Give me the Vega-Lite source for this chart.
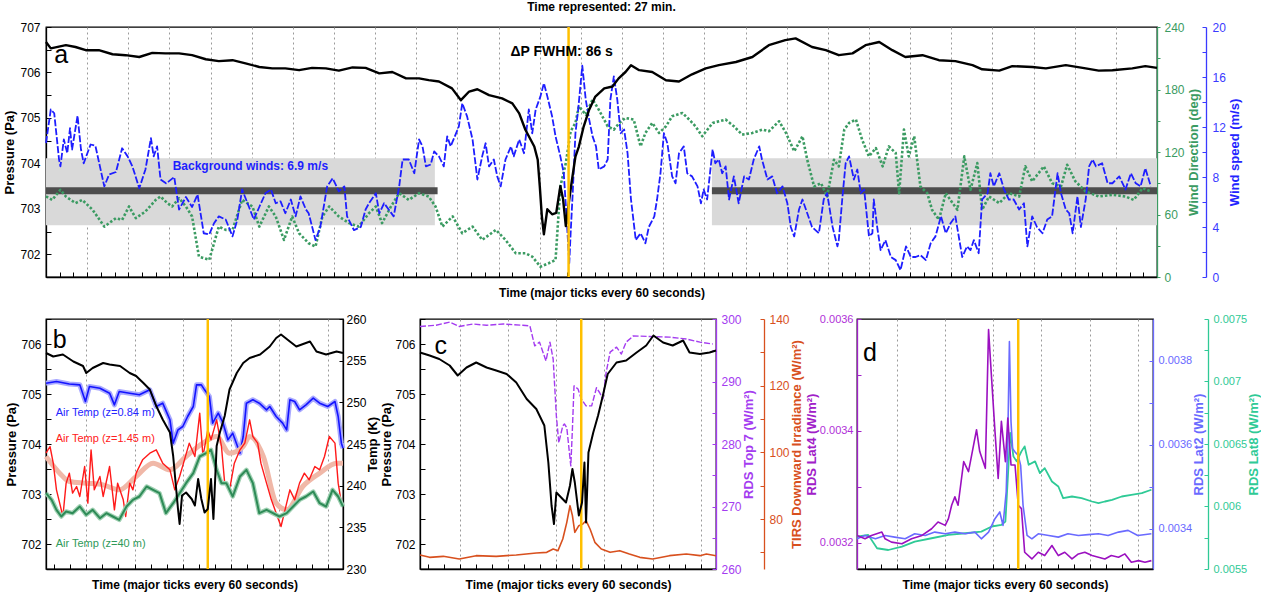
{
 "$schema": "https://vega.github.io/schema/vega-lite/v6.json",
 "background": "white",
 "padding": {"left": 3, "top": 0, "right": 0, "bottom": 0},
 "datasets": {
  "a_p": [{"t":0,"v":706.67},{"t":7,"v":706.53},{"t":29,"v":706.6},{"t":43,"v":706.56},{"t":58,"v":706.49},{"t":77,"v":706.49},{"t":97,"v":706.4},{"t":116,"v":706.38},{"t":136,"v":706.34},{"t":155,"v":706.43},{"t":174,"v":706.42},{"t":194,"v":706.42},{"t":213,"v":706.38},{"t":233,"v":706.29},{"t":252,"v":706.25},{"t":272,"v":706.27},{"t":291,"v":706.2},{"t":311,"v":706.12},{"t":330,"v":706.09},{"t":349,"v":706.09},{"t":369,"v":706.05},{"t":388,"v":706.1},{"t":408,"v":706.09},{"t":427,"v":706.04},{"t":447,"v":706.11},{"t":466,"v":706.1},{"t":486,"v":705.98},{"t":505,"v":706.01},{"t":525,"v":705.87},{"t":544,"v":705.87},{"t":558,"v":705.83},{"t":573,"v":705.8},{"t":592,"v":705.65},{"t":605,"v":705.39},{"t":617,"v":705.58},{"t":629,"v":705.63},{"t":646,"v":705.5},{"t":665,"v":705.43},{"t":680,"v":705.32},{"t":690,"v":705.1},{"t":699,"v":704.74},{"t":712,"v":704.37},{"t":717,"v":704.08},{"t":720,"v":703.5},{"t":723,"v":702.84},{"t":726,"v":702.44},{"t":731,"v":702.99},{"t":738,"v":702.88},{"t":744,"v":702.91},{"t":750,"v":703.5},{"t":754,"v":703.21},{"t":758,"v":702.62},{"t":763,"v":703.21},{"t":767,"v":703.64},{"t":772,"v":704.15},{"t":777,"v":704.37},{"t":784,"v":704.81},{"t":792,"v":705.18},{"t":801,"v":705.47},{"t":814,"v":705.65},{"t":826,"v":705.69},{"t":835,"v":705.87},{"t":845,"v":706.01},{"t":853,"v":706.16},{"t":865,"v":706.05},{"t":884,"v":706.01},{"t":904,"v":705.83},{"t":923,"v":705.8},{"t":942,"v":705.96},{"t":962,"v":706.09},{"t":981,"v":706.16},{"t":1006,"v":706.23},{"t":1030,"v":706.34},{"t":1054,"v":706.6},{"t":1078,"v":706.71},{"t":1093,"v":706.75},{"t":1117,"v":706.56},{"t":1137,"v":706.49},{"t":1156,"v":706.38},{"t":1176,"v":706.42},{"t":1195,"v":706.6},{"t":1215,"v":706.67},{"t":1234,"v":706.49},{"t":1253,"v":706.34},{"t":1278,"v":706.38},{"t":1302,"v":706.27},{"t":1326,"v":706.25},{"t":1351,"v":706.16},{"t":1365,"v":706.07},{"t":1390,"v":706.04},{"t":1409,"v":706.14},{"t":1438,"v":706.12},{"t":1458,"v":706.09},{"t":1487,"v":706.16},{"t":1516,"v":706.09},{"t":1535,"v":706.04},{"t":1555,"v":706.05},{"t":1584,"v":706.09},{"t":1603,"v":706.14},{"t":1620,"v":706.1}],
  "a_ws": [{"t":0,"v":10.72},{"t":7,"v":13.4},{"t":12,"v":13.1},{"t":19,"v":9.4},{"t":21,"v":8.85},{"t":26,"v":11.0},{"t":31,"v":9.9},{"t":35,"v":11.9},{"t":38,"v":10.2},{"t":46,"v":12.9},{"t":51,"v":10.2},{"t":55,"v":9.1},{"t":65,"v":10.6},{"t":72,"v":10.5},{"t":85,"v":7.25},{"t":92,"v":8.2},{"t":102,"v":8.4},{"t":111,"v":10.3},{"t":119,"v":9.65},{"t":126,"v":8.85},{"t":136,"v":7.1},{"t":145,"v":8.6},{"t":153,"v":11.1},{"t":157,"v":9.65},{"t":162,"v":10.45},{"t":167,"v":7.8},{"t":175,"v":7.5},{"t":179,"v":7.65},{"t":187,"v":8.0},{"t":194,"v":5.4},{"t":204,"v":6.4},{"t":213,"v":5.6},{"t":221,"v":6.6},{"t":230,"v":3.5},{"t":238,"v":3.4},{"t":245,"v":4.3},{"t":252,"v":4.85},{"t":262,"v":4.6},{"t":272,"v":3.25},{"t":279,"v":4.6},{"t":286,"v":7.0},{"t":296,"v":5.6},{"t":303,"v":4.6},{"t":311,"v":5.6},{"t":320,"v":6.7},{"t":328,"v":7.0},{"t":335,"v":5.9},{"t":342,"v":6.05},{"t":349,"v":5.1},{"t":357,"v":6.2},{"t":364,"v":4.85},{"t":371,"v":6.45},{"t":379,"v":5.4},{"t":383,"v":5.1},{"t":393,"v":2.95},{"t":400,"v":4.0},{"t":410,"v":7.25},{"t":418,"v":7.9},{"t":427,"v":6.85},{"t":435,"v":7.25},{"t":439,"v":4.85},{"t":449,"v":3.75},{"t":459,"v":4.0},{"t":466,"v":5.4},{"t":471,"v":5.9},{"t":481,"v":6.7},{"t":486,"v":5.1},{"t":493,"v":5.9},{"t":507,"v":4.85},{"t":515,"v":7.25},{"t":520,"v":9.4},{"t":529,"v":9.4},{"t":537,"v":8.3},{"t":544,"v":11.0},{"t":549,"v":10.45},{"t":554,"v":8.85},{"t":561,"v":9.0},{"t":566,"v":10.05},{"t":573,"v":9.65},{"t":580,"v":8.85},{"t":585,"v":11.25},{"t":590,"v":10.45},{"t":595,"v":11.1},{"t":602,"v":12.05},{"t":607,"v":13.9},{"t":614,"v":12.85},{"t":622,"v":11.0},{"t":629,"v":7.8},{"t":636,"v":9.65},{"t":641,"v":10.7},{"t":646,"v":8.85},{"t":653,"v":9.4},{"t":658,"v":8.05},{"t":663,"v":7.25},{"t":670,"v":9.4},{"t":678,"v":10.45},{"t":682,"v":9.65},{"t":690,"v":11.0},{"t":697,"v":9.9},{"t":704,"v":13.4},{"t":709,"v":11.5},{"t":714,"v":13.4},{"t":721,"v":14.45},{"t":726,"v":15.5},{"t":731,"v":14.45},{"t":738,"v":12.85},{"t":743,"v":11.25},{"t":750,"v":9.65},{"t":755,"v":8.3},{"t":759,"v":4.85},{"t":763,"v":1.1},{"t":765,"v":3.5},{"t":768,"v":6.7},{"t":772,"v":11.5},{"t":776,"v":13.4},{"t":782,"v":16.9},{"t":787,"v":14.2},{"t":792,"v":12.6},{"t":797,"v":11.25},{"t":802,"v":10.45},{"t":806,"v":8.6},{"t":814,"v":8.85},{"t":819,"v":9.4},{"t":823,"v":14.2},{"t":828,"v":16.05},{"t":833,"v":14.2},{"t":838,"v":11.5},{"t":843,"v":11.8},{"t":848,"v":9.9},{"t":853,"v":6.2},{"t":860,"v":2.95},{"t":867,"v":3.5},{"t":874,"v":2.7},{"t":879,"v":4.0},{"t":887,"v":4.85},{"t":891,"v":6.2},{"t":896,"v":8.3},{"t":901,"v":11.5},{"t":906,"v":10.7},{"t":913,"v":8.05},{"t":918,"v":7.5},{"t":923,"v":9.9},{"t":930,"v":10.45},{"t":935,"v":8.3},{"t":942,"v":8.05},{"t":950,"v":7.25},{"t":955,"v":5.9},{"t":959,"v":7.0},{"t":964,"v":6.2},{"t":972,"v":10.2},{"t":976,"v":9.1},{"t":981,"v":9.4},{"t":986,"v":8.3},{"t":991,"v":8.85},{"t":996,"v":6.2},{"t":1003,"v":8.05},{"t":1010,"v":5.9},{"t":1018,"v":8.05},{"t":1025,"v":7.8},{"t":1032,"v":9.4},{"t":1040,"v":10.45},{"t":1044,"v":9.4},{"t":1052,"v":7.8},{"t":1059,"v":8.05},{"t":1066,"v":6.7},{"t":1074,"v":7.25},{"t":1081,"v":5.9},{"t":1086,"v":4.0},{"t":1091,"v":3.25},{"t":1098,"v":5.4},{"t":1103,"v":6.2},{"t":1110,"v":5.1},{"t":1117,"v":4.0},{"t":1127,"v":3.5},{"t":1134,"v":6.2},{"t":1139,"v":6.7},{"t":1147,"v":4.0},{"t":1154,"v":2.45},{"t":1156,"v":2.95},{"t":1161,"v":6.2},{"t":1166,"v":9.1},{"t":1171,"v":9.65},{"t":1178,"v":7.8},{"t":1183,"v":8.6},{"t":1188,"v":6.7},{"t":1193,"v":7.0},{"t":1200,"v":3.25},{"t":1205,"v":3.5},{"t":1207,"v":6.2},{"t":1212,"v":4.0},{"t":1217,"v":2.15},{"t":1224,"v":2.95},{"t":1232,"v":1.6},{"t":1239,"v":1.35},{"t":1246,"v":0.55},{"t":1254,"v":2.45},{"t":1261,"v":1.6},{"t":1268,"v":1.6},{"t":1275,"v":1.75},{"t":1283,"v":1.35},{"t":1290,"v":2.7},{"t":1297,"v":3.25},{"t":1305,"v":4.85},{"t":1312,"v":3.5},{"t":1319,"v":4.3},{"t":1326,"v":4.85},{"t":1336,"v":1.6},{"t":1343,"v":2.45},{"t":1348,"v":2.15},{"t":1353,"v":2.95},{"t":1360,"v":1.9},{"t":1365,"v":6.2},{"t":1373,"v":6.7},{"t":1377,"v":8.3},{"t":1382,"v":7.25},{"t":1390,"v":8.3},{"t":1397,"v":7.0},{"t":1404,"v":6.2},{"t":1411,"v":6.2},{"t":1419,"v":5.4},{"t":1426,"v":5.9},{"t":1431,"v":2.45},{"t":1438,"v":4.85},{"t":1445,"v":4.0},{"t":1453,"v":3.5},{"t":1460,"v":4.6},{"t":1467,"v":4.85},{"t":1475,"v":8.3},{"t":1480,"v":6.7},{"t":1487,"v":5.4},{"t":1492,"v":5.1},{"t":1497,"v":3.5},{"t":1504,"v":6.45},{"t":1509,"v":4.0},{"t":1516,"v":6.2},{"t":1521,"v":8.85},{"t":1526,"v":9.4},{"t":1531,"v":8.85},{"t":1540,"v":9.1},{"t":1548,"v":7.5},{"t":1555,"v":7.5},{"t":1565,"v":8.05},{"t":1574,"v":7.0},{"t":1582,"v":8.3},{"t":1589,"v":7.5},{"t":1596,"v":7.25},{"t":1603,"v":8.7},{"t":1611,"v":7.25}],
  "a_wd": [{"t":0,"v":77.3},{"t":9,"v":74},{"t":21,"v":83.7},{"t":29,"v":77.3},{"t":43,"v":70.9},{"t":53,"v":74},{"t":68,"v":64.5},{"t":85,"v":48.4},{"t":102,"v":56.5},{"t":111,"v":54.9},{"t":121,"v":67.7},{"t":131,"v":56.5},{"t":145,"v":62.9},{"t":160,"v":74},{"t":167,"v":77.3},{"t":177,"v":70.9},{"t":184,"v":67.7},{"t":194,"v":75.7},{"t":204,"v":67.7},{"t":213,"v":58.1},{"t":223,"v":19.6},{"t":238,"v":16.4},{"t":252,"v":48.4},{"t":262,"v":45.2},{"t":272,"v":45.2},{"t":286,"v":74},{"t":301,"v":67.7},{"t":311,"v":48.4},{"t":325,"v":67.7},{"t":335,"v":58.1},{"t":347,"v":35.6},{"t":359,"v":58.1},{"t":369,"v":42},{"t":383,"v":32.4},{"t":393,"v":29.2},{"t":403,"v":58.1},{"t":413,"v":67.7},{"t":427,"v":58.1},{"t":442,"v":51.7},{"t":456,"v":48.4},{"t":471,"v":61.3},{"t":481,"v":67.7},{"t":490,"v":51.7},{"t":503,"v":67.7},{"t":515,"v":80.5},{"t":529,"v":74},{"t":544,"v":80.5},{"t":558,"v":77.3},{"t":568,"v":67.7},{"t":578,"v":48.4},{"t":593,"v":58.1},{"t":607,"v":42},{"t":622,"v":48.4},{"t":636,"v":35.6},{"t":656,"v":45.2},{"t":670,"v":35.6},{"t":685,"v":22.8},{"t":699,"v":22.8},{"t":709,"v":19.6},{"t":721,"v":9.9},{"t":733,"v":13.2},{"t":743,"v":16.4},{"t":750,"v":86.9},{"t":758,"v":109.4},{"t":765,"v":139.9},{"t":772,"v":147.9},{"t":777,"v":163.9},{"t":787,"v":155.9},{"t":797,"v":170.4},{"t":806,"v":160.7},{"t":819,"v":144.7},{"t":828,"v":141.5},{"t":836,"v":147.9},{"t":845,"v":152.7},{"t":857,"v":151.1},{"t":867,"v":125.4},{"t":874,"v":138.3},{"t":884,"v":147.9},{"t":894,"v":138.3},{"t":904,"v":144.7},{"t":913,"v":154.3},{"t":928,"v":157.5},{"t":938,"v":151.1},{"t":947,"v":144.7},{"t":957,"v":135.1},{"t":972,"v":147.9},{"t":991,"v":151.1},{"t":1003,"v":144.7},{"t":1015,"v":136.7},{"t":1030,"v":138.3},{"t":1045,"v":141.5},{"t":1054,"v":139.9},{"t":1069,"v":149.5},{"t":1079,"v":138.3},{"t":1091,"v":120.6},{"t":1103,"v":135.1},{"t":1110,"v":112.6},{"t":1120,"v":86.9},{"t":1130,"v":90.1},{"t":1139,"v":77.3},{"t":1149,"v":112.6},{"t":1156,"v":106.2},{"t":1164,"v":141.5},{"t":1171,"v":147.9},{"t":1181,"v":151.1},{"t":1190,"v":131.9},{"t":1200,"v":115.8},{"t":1210,"v":123.8},{"t":1220,"v":106.2},{"t":1229,"v":125.4},{"t":1239,"v":119},{"t":1244,"v":80.5},{"t":1251,"v":141.5},{"t":1258,"v":115.8},{"t":1266,"v":135.1},{"t":1275,"v":86.9},{"t":1285,"v":80.5},{"t":1292,"v":64.5},{"t":1302,"v":54.9},{"t":1312,"v":80.5},{"t":1322,"v":70.9},{"t":1329,"v":64.5},{"t":1339,"v":115.8},{"t":1348,"v":83.7},{"t":1358,"v":109.4},{"t":1365,"v":64.5},{"t":1375,"v":77.3},{"t":1390,"v":70.9},{"t":1404,"v":80.5},{"t":1419,"v":77.3},{"t":1428,"v":106.2},{"t":1438,"v":91.8},{"t":1455,"v":106.2},{"t":1467,"v":90.1},{"t":1480,"v":86.9},{"t":1489,"v":107.8},{"t":1501,"v":91.8},{"t":1516,"v":82.1},{"t":1535,"v":77.3},{"t":1555,"v":78.9},{"t":1574,"v":77.3},{"t":1586,"v":74},{"t":1599,"v":85.3},{"t":1611,"v":82.1}],
  "b_p": [{"t":0,"v":705.82},{"t":9,"v":705.75},{"t":21,"v":705.79},{"t":34,"v":705.65},{"t":46,"v":705.56},{"t":50,"v":705.42},{"t":58,"v":705.52},{"t":71,"v":705.62},{"t":79,"v":705.59},{"t":92,"v":705.56},{"t":104,"v":705.42},{"t":112,"v":705.36},{"t":121,"v":705.22},{"t":129,"v":705.09},{"t":137,"v":704.76},{"t":145,"v":704.49},{"t":154,"v":704.23},{"t":158,"v":703.76},{"t":161,"v":703.23},{"t":164,"v":702.7},{"t":166,"v":702.4},{"t":169,"v":702.97},{"t":174,"v":703.03},{"t":181,"v":702.9},{"t":185,"v":702.77},{"t":189,"v":703.3},{"t":193,"v":702.9},{"t":197,"v":702.63},{"t":201,"v":702.7},{"t":205,"v":703.3},{"t":208,"v":702.5},{"t":212,"v":703.96},{"t":216,"v":704.23},{"t":222,"v":704.56},{"t":228,"v":705.09},{"t":237,"v":705.42},{"t":245,"v":705.62},{"t":253,"v":705.72},{"t":266,"v":705.79},{"t":278,"v":705.95},{"t":286,"v":706.12},{"t":292,"v":706.19},{"t":303,"v":706.05},{"t":311,"v":705.95},{"t":328,"v":706.05},{"t":336,"v":705.85},{"t":348,"v":705.79},{"t":361,"v":705.85},{"t":369,"v":705.82}],
  "b_t084": [{"t":0,"v":252.3},{"t":13,"v":252.5},{"t":29,"v":252.2},{"t":42,"v":252.1},{"t":49,"v":250.1},{"t":54,"v":251.9},{"t":67,"v":251.7},{"t":79,"v":251.1},{"t":85,"v":249.7},{"t":91,"v":251.3},{"t":104,"v":251.1},{"t":116,"v":250.9},{"t":129,"v":251.5},{"t":137,"v":249.5},{"t":145,"v":249.9},{"t":154,"v":247.9},{"t":158,"v":245.1},{"t":164,"v":246.7},{"t":170,"v":247.1},{"t":176,"v":248.3},{"t":183,"v":249.5},{"t":187,"v":252.1},{"t":193,"v":252.1},{"t":197,"v":251.5},{"t":203,"v":250.7},{"t":207,"v":247.5},{"t":214,"v":248.7},{"t":220,"v":247.5},{"t":226,"v":245.5},{"t":232,"v":246.3},{"t":241,"v":243.9},{"t":245,"v":245.9},{"t":249,"v":249.9},{"t":257,"v":250.3},{"t":265,"v":249.9},{"t":274,"v":249.1},{"t":278,"v":249.5},{"t":286,"v":248.3},{"t":294,"v":247.5},{"t":299,"v":246.7},{"t":303,"v":250.3},{"t":309,"v":250.1},{"t":315,"v":249.1},{"t":323,"v":249.7},{"t":332,"v":250.5},{"t":340,"v":249.9},{"t":350,"v":249.5},{"t":359,"v":250.1},{"t":363,"v":248.3},{"t":367,"v":245.1},{"t":369,"v":244.5}],
  "b_t145": [{"t":0,"v":243.9},{"t":5,"v":244.7},{"t":9,"v":242.7},{"t":13,"v":239.5},{"t":17,"v":237.9},{"t":21,"v":236.3},{"t":25,"v":240.3},{"t":29,"v":241.5},{"t":33,"v":239.1},{"t":38,"v":239.9},{"t":42,"v":238.7},{"t":48,"v":242.3},{"t":52,"v":237.9},{"t":56,"v":244.3},{"t":60,"v":239.5},{"t":67,"v":241.1},{"t":71,"v":238.7},{"t":79,"v":242.3},{"t":85,"v":237.1},{"t":89,"v":240.3},{"t":96,"v":238.3},{"t":99,"v":236.3},{"t":104,"v":240.3},{"t":108,"v":239.5},{"t":112,"v":241.5},{"t":120,"v":243.1},{"t":129,"v":243.9},{"t":137,"v":244.3},{"t":145,"v":242.7},{"t":154,"v":241.9},{"t":160,"v":239.5},{"t":166,"v":241.1},{"t":172,"v":243.1},{"t":178,"v":245.1},{"t":185,"v":243.5},{"t":191,"v":248.7},{"t":195,"v":243.5},{"t":201,"v":246.7},{"t":205,"v":245.5},{"t":212,"v":247.9},{"t":218,"v":244.7},{"t":222,"v":240.3},{"t":228,"v":239.5},{"t":234,"v":242.7},{"t":241,"v":244.3},{"t":247,"v":245.1},{"t":253,"v":247.9},{"t":257,"v":245.9},{"t":263,"v":245.1},{"t":267,"v":242.7},{"t":274,"v":240.3},{"t":280,"v":238.3},{"t":286,"v":236.7},{"t":292,"v":235.1},{"t":299,"v":237.9},{"t":303,"v":239.5},{"t":309,"v":238.3},{"t":315,"v":240.3},{"t":321,"v":241.5},{"t":327,"v":240.7},{"t":334,"v":242.3},{"t":340,"v":241.9},{"t":346,"v":243.5},{"t":352,"v":245.9},{"t":359,"v":245.1},{"t":363,"v":240.3},{"t":367,"v":237.9},{"t":369,"v":237.7}],
  "b_t145s": [{"t":0,"v":243.5},{"t":17,"v":241.5},{"t":29,"v":240.5},{"t":50,"v":240.3},{"t":71,"v":240.1},{"t":91,"v":239.5},{"t":112,"v":241.1},{"t":133,"v":242.7},{"t":154,"v":241.9},{"t":174,"v":243.5},{"t":195,"v":245.1},{"t":212,"v":245.9},{"t":228,"v":243.9},{"t":245,"v":244.7},{"t":253,"v":245.9},{"t":270,"v":243.5},{"t":286,"v":237.9},{"t":299,"v":237.1},{"t":319,"v":239.9},{"t":340,"v":241.5},{"t":361,"v":242.7},{"t":369,"v":242.7}],
  "b_t40": [{"t":0,"v":239.1},{"t":7,"v":238.3},{"t":13,"v":237.1},{"t":19,"v":236.3},{"t":25,"v":236.9},{"t":33,"v":236.7},{"t":42,"v":237.5},{"t":50,"v":236.5},{"t":58,"v":237.1},{"t":67,"v":236.1},{"t":75,"v":236.7},{"t":83,"v":236.3},{"t":91,"v":235.9},{"t":100,"v":237.5},{"t":108,"v":238.3},{"t":116,"v":238.7},{"t":125,"v":239.9},{"t":133,"v":239.5},{"t":141,"v":239.1},{"t":149,"v":236.7},{"t":158,"v":237.9},{"t":166,"v":239.1},{"t":174,"v":240.3},{"t":183,"v":241.5},{"t":191,"v":243.5},{"t":199,"v":243.9},{"t":205,"v":244.3},{"t":212,"v":241.9},{"t":218,"v":240.3},{"t":224,"v":240.3},{"t":232,"v":238.7},{"t":241,"v":241.1},{"t":249,"v":241.9},{"t":257,"v":240.3},{"t":265,"v":236.7},{"t":274,"v":237.1},{"t":282,"v":236.7},{"t":290,"v":236.3},{"t":299,"v":236.7},{"t":307,"v":237.5},{"t":315,"v":238.3},{"t":323,"v":238.7},{"t":332,"v":239.3},{"t":340,"v":237.9},{"t":348,"v":237.5},{"t":356,"v":239.5},{"t":363,"v":238.7},{"t":369,"v":237.5}],
  "c_p": [{"t":0,"v":705.83},{"t":12,"v":705.77},{"t":24,"v":705.7},{"t":37,"v":705.57},{"t":47,"v":705.37},{"t":58,"v":705.53},{"t":70,"v":705.63},{"t":83,"v":705.53},{"t":95,"v":705.47},{"t":108,"v":705.4},{"t":120,"v":705.23},{"t":133,"v":704.9},{"t":145,"v":704.7},{"t":155,"v":704.37},{"t":160,"v":703.63},{"t":164,"v":702.77},{"t":167,"v":702.4},{"t":170,"v":703.03},{"t":176,"v":702.93},{"t":182,"v":702.83},{"t":187,"v":703.17},{"t":190,"v":703.5},{"t":193,"v":703.23},{"t":198,"v":702.57},{"t":202,"v":702.83},{"t":205,"v":703.63},{"t":207,"v":702.43},{"t":210,"v":703.83},{"t":216,"v":704.23},{"t":222,"v":704.57},{"t":228,"v":704.97},{"t":234,"v":705.4},{"t":245,"v":705.63},{"t":257,"v":705.67},{"t":270,"v":705.83},{"t":282,"v":705.97},{"t":291,"v":706.17},{"t":303,"v":706.03},{"t":315,"v":705.97},{"t":328,"v":706.07},{"t":336,"v":705.83},{"t":349,"v":705.8},{"t":361,"v":705.83},{"t":369,"v":705.87}],
  "c_rds": [{"t":0,"v":298.8},{"t":20,"v":299.0},{"t":37,"v":299.5},{"t":49,"v":298.8},{"t":66,"v":299.2},{"t":83,"v":299.0},{"t":104,"v":299.2},{"t":128,"v":299.0},{"t":137,"v":298.9},{"t":143,"v":295.7},{"t":149,"v":296.3},{"t":157,"v":293.3},{"t":162,"v":296.3},{"t":166,"v":293.6},{"t":170,"v":284.5},{"t":173,"v":280.2},{"t":178,"v":282.9},{"t":180,"v":283.2},{"t":183,"v":282.6},{"t":188,"v":276.5},{"t":190,"v":282.4},{"t":192,"v":289.3},{"t":197,"v":288.8},{"t":201,"v":287.2},{"t":207,"v":286.1},{"t":214,"v":286.1},{"t":220,"v":289.0},{"t":224,"v":288.2},{"t":228,"v":287.2},{"t":232,"v":291.4},{"t":237,"v":294.7},{"t":245,"v":295.5},{"t":251,"v":294.4},{"t":257,"v":296.3},{"t":266,"v":297.3},{"t":286,"v":297.2},{"t":311,"v":297.1},{"t":332,"v":296.8},{"t":349,"v":296.3},{"t":365,"v":296.0}],
  "c_tirs": [{"t":0,"v":69.2},{"t":12,"v":68.5},{"t":29,"v":68.8},{"t":49,"v":68.0},{"t":70,"v":69.0},{"t":95,"v":68.8},{"t":120,"v":69.2},{"t":145,"v":69.8},{"t":158,"v":70.0},{"t":166,"v":71.0},{"t":172,"v":70.5},{"t":178,"v":74.0},{"t":183,"v":79.0},{"t":187,"v":84.0},{"t":190,"v":81.0},{"t":193,"v":76.0},{"t":198,"v":78.0},{"t":203,"v":78.5},{"t":207,"v":79.5},{"t":212,"v":77.0},{"t":218,"v":73.0},{"t":226,"v":71.0},{"t":237,"v":70.0},{"t":249,"v":70.5},{"t":261,"v":69.5},{"t":274,"v":68.5},{"t":290,"v":68.0},{"t":311,"v":69.0},{"t":332,"v":69.5},{"t":349,"v":69.0},{"t":357,"v":69.5},{"t":369,"v":69.0}],
  "d_l4": [{"t":0,"v":0.003213},{"t":10,"v":0.003207},{"t":18,"v":0.003213},{"t":31,"v":0.003219},{"t":35,"v":0.003207},{"t":43,"v":0.003201},{"t":56,"v":0.003198},{"t":68,"v":0.003207},{"t":81,"v":0.003213},{"t":93,"v":0.003225},{"t":101,"v":0.003237},{"t":110,"v":0.003231},{"t":114,"v":0.003243},{"t":118,"v":0.003267},{"t":122,"v":0.003282},{"t":126,"v":0.003267},{"t":133,"v":0.003345},{"t":139,"v":0.003327},{"t":143,"v":0.003357},{"t":149,"v":0.003402},{"t":153,"v":0.003363},{"t":160,"v":0.003333},{"t":164,"v":0.003581},{"t":168,"v":0.003489},{"t":172,"v":0.003399},{"t":176,"v":0.003315},{"t":180,"v":0.003417},{"t":185,"v":0.003345},{"t":188,"v":0.003423},{"t":192,"v":0.003339},{"t":197,"v":0.003339},{"t":201,"v":0.003267},{"t":205,"v":0.003261},{"t":209,"v":0.003183},{"t":218,"v":0.003171},{"t":226,"v":0.003183},{"t":234,"v":0.003177},{"t":243,"v":0.003195},{"t":251,"v":0.003177},{"t":259,"v":0.003183},{"t":268,"v":0.003171},{"t":276,"v":0.00318},{"t":284,"v":0.003183},{"t":293,"v":0.003177},{"t":301,"v":0.003174},{"t":309,"v":0.003171},{"t":317,"v":0.003177},{"t":326,"v":0.003174},{"t":334,"v":0.00318},{"t":342,"v":0.003165},{"t":351,"v":0.003168},{"t":359,"v":0.003165},{"t":367,"v":0.003168}],
  "d_l2": [{"t":0,"v":0.003376},{"t":10,"v":0.003384},{"t":23,"v":0.003376},{"t":35,"v":0.003384},{"t":47,"v":0.00338},{"t":60,"v":0.003376},{"t":72,"v":0.003388},{"t":85,"v":0.003384},{"t":97,"v":0.003392},{"t":110,"v":0.003388},{"t":122,"v":0.003392},{"t":135,"v":0.003388},{"t":147,"v":0.003392},{"t":155,"v":0.003376},{"t":164,"v":0.003392},{"t":172,"v":0.003424},{"t":178,"v":0.00344},{"t":182,"v":0.003408},{"t":186,"v":0.003488},{"t":188,"v":0.003615},{"t":190,"v":0.003846},{"t":192,"v":0.003655},{"t":194,"v":0.003591},{"t":197,"v":0.003583},{"t":201,"v":0.003575},{"t":204,"v":0.003551},{"t":207,"v":0.003456},{"t":212,"v":0.003384},{"t":218,"v":0.003376},{"t":226,"v":0.003388},{"t":239,"v":0.003384},{"t":251,"v":0.00338},{"t":263,"v":0.003388},{"t":276,"v":0.003384},{"t":288,"v":0.003386},{"t":301,"v":0.003388},{"t":313,"v":0.003384},{"t":326,"v":0.003392},{"t":338,"v":0.003396},{"t":350,"v":0.003384},{"t":367,"v":0.003388}],
  "d_l8": [{"t":0,"v":0.005759},{"t":14,"v":0.005773},{"t":25,"v":0.005666},{"t":39,"v":0.005652},{"t":56,"v":0.005679},{"t":72,"v":0.005719},{"t":93,"v":0.005746},{"t":114,"v":0.005773},{"t":135,"v":0.005786},{"t":155,"v":0.005799},{"t":168,"v":0.00584},{"t":180,"v":0.005853},{"t":185,"v":0.00588},{"t":188,"v":0.006227},{"t":191,"v":0.006588},{"t":195,"v":0.006401},{"t":199,"v":0.006361},{"t":205,"v":0.006441},{"t":209,"v":0.006481},{"t":214,"v":0.006334},{"t":222,"v":0.006361},{"t":228,"v":0.006267},{"t":234,"v":0.006307},{"t":243,"v":0.0062},{"t":251,"v":0.00616},{"t":257,"v":0.006067},{"t":268,"v":0.00608},{"t":280,"v":0.006067},{"t":293,"v":0.00604},{"t":301,"v":0.006027},{"t":309,"v":0.00604},{"t":318,"v":0.006053},{"t":330,"v":0.00608},{"t":342,"v":0.006093},{"t":355,"v":0.006107},{"t":367,"v":0.006134}]
 },
 "vconcat": [
  {
   "width": 1111, "height": 250,
   "title": {"text": "Time represented: 27 min.", "font": "Liberation Sans, Arial, sans-serif", "fontSize": 12, "fontWeight": "bold", "frame": "group", "anchor": "middle", "offset": 7, "color": "#000"},
   "encoding": {"x": {"field": "t", "type": "quantitative", "scale": {"domain": [0,1620], "nice": false, "zero": false},
     "axis": {"values": [0,20,40,60,80,100,120,140,160,180,200,220,240,260,280,300,320,340,360,380,400,420,440,460,480,500,520,540,560,580,600,620,640,660,680,700,720,740,760,780,800,820,840,860,880,900,920,940,960,980,1000,1020,1040,1060,1080,1100,1120,1140,1160,1180,1200,1220,1240,1260,1280,1300,1320,1340,1360,1380,1400,1420,1440,1460,1480,1500,1520,1540,1560,1580,1600,1620], "labels": false, "tickSize": -5, "grid": true, "gridColor": "#9a9a9a", "gridDash": [2,3], "gridOpacity": {"condition": {"test": "datum.value % 60 === 0", "value": 1}, "value": 0}, "title": "Time (major ticks every 60 seconds)", "titleFontSize": 12, "titlePadding": 10}}},
   "layer": [
    {"data": {"values": [{"t":0,"t1":567,"lo":4.15,"hi":9.5},{"t":971,"t1":1620,"lo":4.15,"hi":9.5}]},
     "mark": {"type": "rect", "color": "#d9d9d9"},
     "encoding": {"x2": {"field": "t1"},
       "y": {"field": "lo", "type": "quantitative", "scale": {"domain": [0,20], "nice": false, "zero": false}, "axis": null}, "y2": {"field": "hi"}}},
    {"data": {"values": [{"t":0,"t1":571,"v":6.9},{"t":971,"t1":1620,"v":6.9}]},
     "mark": {"type": "rule", "color": "#4d4d4d", "strokeWidth": 7},
     "encoding": {"x2": {"field": "t1"},
       "y": {"field": "v", "type": "quantitative", "scale": {"domain": [0,20], "nice": false, "zero": false}, "axis": null}}},
    {"data": {"name": "a_wd"},
     "mark": {"type": "line", "color": "#3b9b62", "strokeWidth": 2.6, "strokeDash": [2.5, 2]},
     "encoding": {
       "y": {"field": "v", "type": "quantitative", "scale": {"domain": [0,240], "nice": false, "zero": false},
         "axis": {"orient": "right", "title": "Wind Direction (deg)", "titleAngle": 270, "titleBaseline": "top", "titlePadding": 3, "values": [0,30,60,90,120,150,180,210,240], "format": "d", "labelExpr": "datum.value % 60 === 0 ? datum.label : ''", "tickSize": 3, "labelPadding": 4, "domainColor": "#3b9b62", "tickColor": "#3b9b62", "labelColor": "#3b9b62", "titleColor": "#3b9b62"}}}},
    {"data": {"name": "a_ws"},
     "mark": {"type": "line", "color": "#1e1eff", "strokeWidth": 1.8, "strokeDash": [7, 2]},
     "encoding": {
       "y": {"field": "v", "type": "quantitative", "scale": {"domain": [0,20], "nice": false, "zero": false},
         "axis": {"orient": "right", "offset": 49, "title": "Wind speed (m/s)", "titleAngle": 270, "titleBaseline": "top", "titlePadding": 3, "values": [0,2,4,6,8,10,12,14,16,18,20], "format": "d", "labelExpr": "datum.value % 4 === 0 ? datum.label : ''", "tickSize": -4, "labelPadding": 10, "domainColor": "#3a3aff", "tickColor": "#3a3aff", "labelColor": "#3a3aff", "titleColor": "#2323ff"}}}},
    {"data": {"name": "a_p"},
     "mark": {"type": "line", "color": "#000", "strokeWidth": 2.4},
     "encoding": {
       "y": {"field": "v", "type": "quantitative", "scale": {"domain": [701.5,707], "nice": false, "zero": false},
         "axis": {"orient": "left", "title": "Pressure (Pa)", "titlePadding": 3, "values": [702,702.5,703,703.5,704,704.5,705,705.5,706,706.5,707], "format": ".0f", "labelExpr": "datum.value % 1 === 0 ? datum.label : ''", "tickSize": -5, "labelPadding": 11}}}},
    {"data": {"values": [{"t":762}]},
     "mark": {"type": "rule", "color": "#ffc000", "strokeWidth": 2.5},
     "encoding": {}},
    {"data": {"values": [{"t":298,"v":8.85,"label":"Background winds: 6.9 m/s"}]},
     "mark": {"type": "text", "font": "Liberation Sans, Arial, sans-serif", "fontSize": 12, "fontWeight": "bold", "color": "#1e1eff"},
     "encoding": {
       "y": {"field": "v", "type": "quantitative", "scale": {"domain": [0,20], "nice": false, "zero": false}, "axis": null},
       "text": {"field": "label"}}},
    {"data": {"values": [{"t":752,"v":706.45,"label":"ΔP  FWHM: 86 s"}]},
     "mark": {"type": "text", "font": "Liberation Sans, Arial, sans-serif", "fontSize": 14, "fontWeight": "bold", "color": "#000"},
     "encoding": {
       "y": {"field": "v", "type": "quantitative", "scale": {"domain": [701.5,707], "nice": false, "zero": false}, "axis": null},
       "text": {"field": "label"}}},
    {"data": {"values": [{"t":22,"v":706.38,"label":"a"}]},
     "mark": {"type": "text", "font": "Liberation Sans, Arial, sans-serif", "fontSize": 25, "color": "#000"},
     "encoding": {
       "y": {"field": "v", "type": "quantitative", "scale": {"domain": [701.5,707], "nice": false, "zero": false}, "axis": null},
       "text": {"field": "label"}}}
   ],
   "resolve": {"scale": {"y": "independent"}}
  },
  {
   "spacing": 0,
   "hconcat": [
    {
     "width": 297, "height": 250,
     "encoding": {"x": {"field": "t", "type": "quantitative", "scale": {"domain": [0,369], "nice": false, "zero": false},
       "axis": {"values": [10,30,50,70,90,110,130,150,170,190,210,230,250,270,290,310,330,350], "labels": false, "tickSize": -5, "grid": true, "gridColor": "#9a9a9a", "gridDash": [2,3], "gridOpacity": {"condition": {"test": "(datum.value - 50) % 60 === 0", "value": 1}, "value": 0}, "title": "Time (major ticks every 60 seconds)", "titleFontSize": 12, "titlePadding": 10}}},
     "layer": [
      {"data": {"name": "b_t084"},
       "mark": {"type": "line", "color": "#a9a9ff", "strokeWidth": 5},
       "encoding": {
         "y": {"field": "v", "type": "quantitative", "scale": {"domain": [230,260], "nice": false, "zero": false},
           "axis": {"orient": "right", "title": "Temp (K)", "titleAngle": 270, "titleBaseline": "top", "titlePadding": 0, "values": [230,235,240,245,250,255,260], "format": "d", "tickSize": -4, "labelPadding": 7}}}},
      {"data": {"name": "b_t084"},
       "mark": {"type": "line", "color": "#1414ff", "strokeWidth": 1.6},
       "encoding": {"y": {"field": "v", "type": "quantitative", "scale": {"domain": [230,260], "nice": false, "zero": false}, "axis": null}}},
      {"data": {"name": "b_t145s"},
       "mark": {"type": "line", "color": "#f0b8a8", "strokeWidth": 5, "interpolate": "monotone"},
       "encoding": {"y": {"field": "v", "type": "quantitative", "scale": {"domain": [230,260], "nice": false, "zero": false}, "axis": null}}},
      {"data": {"name": "b_t145"},
       "mark": {"type": "line", "color": "#ff1a1a", "strokeWidth": 1.4},
       "encoding": {"y": {"field": "v", "type": "quantitative", "scale": {"domain": [230,260], "nice": false, "zero": false}, "axis": null}}},
      {"data": {"name": "b_t40"},
       "mark": {"type": "line", "color": "#9fd0b2", "strokeWidth": 4.5},
       "encoding": {"y": {"field": "v", "type": "quantitative", "scale": {"domain": [230,260], "nice": false, "zero": false}, "axis": null}}},
      {"data": {"name": "b_t40"},
       "mark": {"type": "line", "color": "#2e8b57", "strokeWidth": 2},
       "encoding": {"y": {"field": "v", "type": "quantitative", "scale": {"domain": [230,260], "nice": false, "zero": false}, "axis": null}}},
      {"data": {"values": [{"t":201}]},
       "mark": {"type": "rule", "color": "#ffc000", "strokeWidth": 2.5},
       "encoding": {}},
      {"data": {"name": "b_p"},
       "mark": {"type": "line", "color": "#000", "strokeWidth": 2},
       "encoding": {
         "y": {"field": "v", "type": "quantitative", "scale": {"domain": [701.5,706.5], "nice": false, "zero": false},
           "axis": {"orient": "left", "title": "Pressure (Pa)", "titlePadding": 2, "values": [702,702.5,703,703.5,704,704.5,705,705.5,706,706.5], "format": ".0f", "labelExpr": "datum.value % 1 === 0 ? datum.label : ''", "tickSize": -5, "labelPadding": 10}}}},
      {"data": {"values": [{"t":12,"v":248.7,"label":"Air Temp (z=0.84 m)","c":"blue"},{"t":12,"v":245.56,"label":"Air Temp (z=1.45 m)","c":"red"},{"t":12,"v":232.96,"label":"Air Temp (z=40 m)","c":"green"}]},
       "mark": {"type": "text", "align": "left", "font": "Liberation Sans, Arial, sans-serif", "fontSize": 11},
       "encoding": {
         "y": {"field": "v", "type": "quantitative", "scale": {"domain": [230,260], "nice": false, "zero": false}, "axis": null},
         "text": {"field": "label"},
         "color": {"field": "c", "type": "nominal", "scale": {"domain": ["blue","red","green"], "range": ["#2424ff","#ff2020","#2f9a5a"]}, "legend": null}}},
      {"data": {"values": [{"t":17,"v":706.09,"label":"b"}]},
       "mark": {"type": "text", "font": "Liberation Sans, Arial, sans-serif", "fontSize": 25, "color": "#000"},
       "encoding": {
         "y": {"field": "v", "type": "quantitative", "scale": {"domain": [701.5,706.5], "nice": false, "zero": false}, "axis": null},
         "text": {"field": "label"}}}
     ],
     "resolve": {"scale": {"y": "independent"}}
    },
    {
     "width": 296, "height": 250,
     "encoding": {"x": {"field": "t", "type": "quantitative", "scale": {"domain": [0,369], "nice": false, "zero": false},
       "axis": {"values": [10,30,50,70,90,110,130,150,170,190,210,230,250,270,290,310,330,350], "labels": false, "tickSize": -5, "grid": true, "gridColor": "#9a9a9a", "gridDash": [2,3], "gridOpacity": {"condition": {"test": "(datum.value - 50) % 60 === 0", "value": 1}, "value": 0}, "title": "Time (major ticks every 60 seconds)", "titleFontSize": 12, "titlePadding": 10}}},
     "layer": [
      {"data": {"name": "c_tirs"},
       "mark": {"type": "line", "color": "#d8501e", "strokeWidth": 1.6},
       "encoding": {
         "y": {"field": "v", "type": "quantitative", "scale": {"domain": [65,140], "nice": false, "zero": false},
           "axis": {"orient": "right", "offset": 48, "title": "TIRS Downward Irradiance (W/m²)", "titleAngle": 270, "titleBaseline": "top", "titlePadding": 1, "values": [70,80,90,100,110,120,130,140], "format": "d", "labelExpr": "datum.value % 20 === 0 ? datum.label : ''", "tickSize": -4, "labelPadding": 9, "domainColor": "#d8501e", "tickColor": "#d8501e", "labelColor": "#d8501e", "titleColor": "#d8501e"}}}},
      {"data": {"name": "c_rds"},
       "mark": {"type": "line", "color": "#a43cf0", "strokeWidth": 1.4, "strokeDash": [6, 2]},
       "encoding": {
         "y": {"field": "v", "type": "quantitative", "scale": {"domain": [260,300], "nice": false, "zero": false},
           "axis": {"orient": "right", "title": "RDS Top 7 (W/m²)", "titleAngle": 270, "titleBaseline": "top", "titlePadding": 1, "values": [260,265,270,275,280,285,290,295,300], "format": "d", "labelExpr": "datum.value % 10 === 0 ? datum.label : ''", "tickSize": -4, "labelPadding": 9, "domainColor": "#a43cf0", "tickColor": "#a43cf0", "labelColor": "#a43cf0", "titleColor": "#a43cf0"}}}},
      {"data": {"values": [{"t":201}]},
       "mark": {"type": "rule", "color": "#ffc000", "strokeWidth": 2.5},
       "encoding": {}},
      {"data": {"name": "c_p"},
       "mark": {"type": "line", "color": "#000", "strokeWidth": 2},
       "encoding": {
         "y": {"field": "v", "type": "quantitative", "scale": {"domain": [701.5,706.5], "nice": false, "zero": false},
           "axis": {"orient": "left", "title": "Pressure (Pa)", "titlePadding": 1, "values": [702,702.5,703,703.5,704,704.5,705,705.5,706,706.5], "format": ".0f", "labelExpr": "datum.value % 1 === 0 ? datum.label : ''", "tickSize": -5, "labelPadding": 10}}}},
      {"data": {"values": [{"t":26,"v":705.97,"label":"c"}]},
       "mark": {"type": "text", "font": "Liberation Sans, Arial, sans-serif", "fontSize": 25, "color": "#000"},
       "encoding": {
         "y": {"field": "v", "type": "quantitative", "scale": {"domain": [701.5,706.5], "nice": false, "zero": false}, "axis": null},
         "text": {"field": "label"}}}
     ],
     "resolve": {"scale": {"y": "independent"}}
    },
    {
     "width": 296, "height": 250,
     "encoding": {"x": {"field": "t", "type": "quantitative", "scale": {"domain": [0,369], "nice": false, "zero": false},
       "axis": {"values": [10,30,50,70,90,110,130,150,170,190,210,230,250,270,290,310,330,350], "labels": false, "tickSize": -5, "grid": true, "gridColor": "#9a9a9a", "gridDash": [2,3], "gridOpacity": {"condition": {"test": "(datum.value - 50) % 60 === 0", "value": 1}, "value": 0}, "title": "Time (major ticks every 60 seconds)", "titleFontSize": 12, "titlePadding": 10}}},
     "layer": [
      {"data": {"name": "d_l8"},
       "mark": {"type": "line", "color": "#2fca96", "strokeWidth": 1.8},
       "encoding": {
         "y": {"field": "v", "type": "quantitative", "scale": {"domain": [0.0055,0.0075], "nice": false, "zero": false},
           "axis": {"orient": "right", "offset": 55, "title": "RDS Lat8 (W/m²)", "titleAngle": 270, "titleBaseline": "top", "titlePadding": 1, "labelFontSize": 11, "values": [0.0055,0.00575,0.006,0.00625,0.0065,0.00675,0.007,0.00725,0.0075], "labelExpr": "round(datum.value*20000) % 10 === 0 ? format(datum.value, '~g') : ''", "tickSize": -4, "labelPadding": 9, "domainColor": "#2fca96", "tickColor": "#2fca96", "labelColor": "#2fca96", "titleColor": "#2fca96"}}}},
      {"data": {"name": "d_l2"},
       "mark": {"type": "line", "color": "#6a6aff", "strokeWidth": 1.6},
       "encoding": {
         "y": {"field": "v", "type": "quantitative", "scale": {"domain": [0.003304,0.0039], "nice": false, "zero": false},
           "axis": {"orient": "right", "title": "RDS Lat2 (W/m²)", "titleAngle": 270, "titleBaseline": "top", "titlePadding": 1, "labelFontSize": 11, "values": [0.0034,0.0035,0.0036,0.0037,0.0038], "labelExpr": "round(datum.value*10000) % 2 === 0 ? format(datum.value, '.4f') : ''", "tickSize": -4, "labelPadding": 9, "domainColor": "#6a6aff", "tickColor": "#6a6aff", "labelColor": "#6a6aff", "titleColor": "#6a6aff"}}}},
      {"data": {"name": "d_l4"},
       "mark": {"type": "line", "color": "#9b10c0", "strokeWidth": 1.6},
       "encoding": {
         "y": {"field": "v", "type": "quantitative", "scale": {"domain": [0.003153,0.0036], "nice": false, "zero": false},
           "axis": {"orient": "left", "title": "RDS Lat4 (W/m²)", "titlePadding": 1, "labelFontSize": 11, "values": [0.0032,0.0033,0.0034,0.0035,0.0036], "labelExpr": "round(datum.value*10000) % 2 === 0 ? format(datum.value, '.4f') : ''", "tickSize": -4, "labelPadding": 8, "domainColor": "#a020c8", "tickColor": "#a020c8", "labelColor": "#b030d8", "titleColor": "#a020c8"}}}},
      {"data": {"values": [{"t":201}]},
       "mark": {"type": "rule", "color": "#ffc000", "strokeWidth": 2.5},
       "encoding": {}},
      {"data": {"values": [{"t":16,"v":0.00354,"label":"d"}]},
       "mark": {"type": "text", "font": "Liberation Sans, Arial, sans-serif", "fontSize": 25, "color": "#000"},
       "encoding": {
         "y": {"field": "v", "type": "quantitative", "scale": {"domain": [0.003153,0.0036], "nice": false, "zero": false}, "axis": null},
         "text": {"field": "label"}}}
     ],
     "resolve": {"scale": {"y": "independent"}}
    }
   ]
  }
 ],
 "spacing": 12,
 "config": {
  "view": {"stroke": "#000", "strokeWidth": 1.3},
  "axis": {"labelFont": "Liberation Sans, Arial, sans-serif", "labelFontSize": 12, "labelColor": "#000", "titleFont": "Liberation Sans, Arial, sans-serif", "titleFontSize": 13, "titleFontWeight": "bold", "titleColor": "#000", "domainColor": "#000", "domainWidth": 1.3, "tickColor": "#000", "tickWidth": 1, "grid": false, "labelOverlap": false},
  "line": {"strokeJoin": "round"}
 }
}
